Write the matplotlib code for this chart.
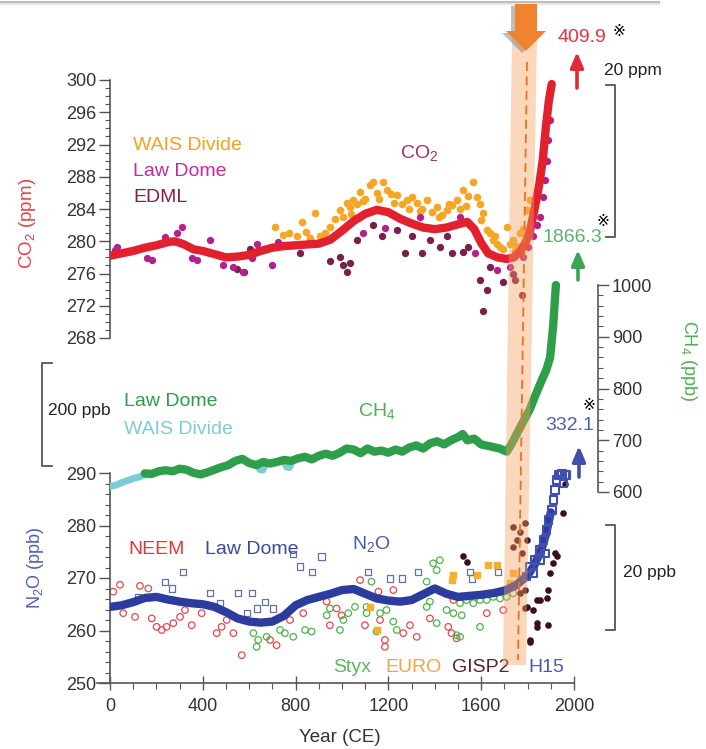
import matplotlib
matplotlib.use("Agg")
import matplotlib.pyplot as plt
from matplotlib.patches import Polygon

plt.rcParams['font.family'] = ['Liberation Sans', 'DejaVu Sans']
plt.rcParams['mathtext.fontset'] = 'custom'
plt.rcParams['mathtext.rm'] = 'Liberation Sans'
plt.rcParams['mathtext.it'] = 'Liberation Sans:italic'
plt.rcParams['mathtext.default'] = 'regular'

# ---------------- CO2 (ppm) ----------------
co2_fit_years = [0, 50, 100, 150, 200, 250, 280, 320, 360, 400, 450, 500, 550, 600, 650, 700, 750, 800,
                 850, 900, 950, 1000, 1050, 1100, 1150, 1200, 1250, 1300, 1350, 1400, 1450, 1500, 1540,
                 1570, 1600, 1630, 1670, 1710, 1740, 1770, 1790, 1810, 1830, 1850, 1865, 1880, 1892, 1904]
co2_fit = [278.2, 278.5, 278.8, 279.2, 279.5, 279.9, 280.0, 279.6, 279.0, 278.8, 278.4, 278.0, 278.1,
           278.3, 278.8, 279.2, 279.4, 279.5, 279.6, 279.7, 280.2, 281.3, 282.5, 283.4, 283.9, 283.6,
           282.8, 282.2, 281.7, 281.5, 281.7, 282.1, 282.4, 281.5, 279.8, 278.5, 278.0, 277.8, 278.0,
           278.8, 279.8, 281.2, 284.0, 287.0, 290.0, 294.5, 297.5, 299.5]

wais_co2_years = [711, 747, 770, 805, 826, 845, 862, 884, 905, 925, 948, 970, 991, 1005, 1020, 1035, 1048,
                  1063, 1078, 1100, 1121, 1134, 1150, 1178, 1192, 1210, 1236, 1258, 1279, 1300, 1322, 1345,
                  1365, 1390, 1408, 1430, 1451, 1475, 1494, 1510, 1523, 1545, 1566, 1581, 1595, 1609, 1624,
                  1638, 1652, 1667, 1681, 1695, 1710, 1724, 1738, 1752, 1767, 1781, 1796, 1810,
                  1040, 1090, 1160, 1225, 1290, 1335, 1420, 1460, 1535, 1600, 1660, 1745]
wais_co2 = [281.8, 280.8, 281.0, 280.6, 282.4, 281.2, 280.4, 283.5, 280.6, 281.0, 281.8, 282.8, 283.9,
            283.0, 284.7, 284.2, 285.1, 284.6, 286.1, 285.3, 287.0, 287.4, 286.0, 287.4, 286.4, 285.8,
            285.7, 284.6, 285.1, 285.5, 284.7, 284.0, 285.1, 283.6, 284.3, 283.2, 283.9, 284.5, 285.1,
            284.0, 286.4, 285.6, 287.4, 285.5, 284.6, 283.5, 281.4, 281.0, 280.2, 279.6, 279.3, 279.0,
            281.8, 279.6, 280.2, 279.4, 281.0, 281.5, 283.9, 285.1,
            283.4, 285.0, 285.2, 284.8, 284.0, 283.8, 283.0, 284.6, 284.4, 282.6, 280.6, 278.8]

lawdome_co2_years = [22, 29, 158, 180, 237, 287, 309, 352, 374, 431, 488, 532, 575, 611, 632, 697, 726,
                     1092, 1185, 1336, 1509, 1573, 1667, 1724, 1781, 1803, 1825, 1840, 1853, 1868, 1875,
                     1882, 1890, 1897]
lawdome_co2 = [278.9, 279.3, 277.9, 277.7, 280.5, 281.0, 281.8, 277.9, 277.7, 280.2, 277.0, 276.8, 276.2,
               277.9, 279.7, 277.1, 279.9, 281.0, 281.6, 283.0, 283.0, 278.5, 276.4, 276.8, 278.1, 279.3,
               280.6, 282.0, 283.0, 285.5, 287.6, 290.0, 292.5, 295.0]

edml_co2_years = [546, 578, 603, 819, 948, 991, 1006, 1020, 1034, 1063, 1135, 1171, 1236, 1272, 1300, 1343,
                  1379, 1422, 1451, 1472, 1523, 1545, 1595, 1609, 1624, 1638, 1695, 1738, 1746, 1774]
edml_co2 = [276.6, 276.2, 279.1, 278.5, 277.5, 278.1, 277.1, 276.2, 277.3, 280.2, 282.0, 280.6, 281.4,
            278.5, 280.6, 278.5, 280.2, 279.3, 280.6, 278.5, 278.7, 279.3, 275.2, 271.3, 274.0, 276.8,
            275.0, 276.0, 275.2, 273.3]

# ---------------- CH4 (ppb) ----------------
ch4_years = [0, 30, 60, 90, 120, 150, 180, 210, 240, 270, 300, 330, 360, 390, 420, 450, 480, 510, 540, 570,
             600, 630, 660, 690, 720, 750, 780, 810, 840, 870, 900, 930, 960, 990, 1020, 1050, 1080, 1110,
             1140, 1170, 1200, 1230, 1260, 1290, 1320, 1350, 1380, 1410, 1440, 1470, 1500, 1520, 1540,
             1570, 1600, 1640, 1680, 1710, 1730, 1753, 1780, 1810, 1832, 1860, 1880, 1897, 1910, 1922]
ch4 = [614, 616, 622, 626, 630, 636, 635, 640, 642, 640, 645, 643, 637, 634, 638, 643, 648, 652, 660, 664,
       656, 652, 658, 655, 658, 662, 660, 665, 668, 663, 670, 674, 670, 676, 684, 682, 675, 684, 678, 680,
       676, 682, 678, 686, 690, 684, 694, 698, 692, 700, 706, 712, 700, 703, 692, 688, 684, 678, 692, 712,
       735, 760, 785, 815, 835, 860, 920, 1000]

wais_ch4_years = [0, 25, 50, 75, 100, 125, 150, 175]
wais_ch4 = [611, 613, 618, 622, 626, 629, 633, 634]
wais_ch4_dip_years = [630, 645, 660, 675, 700, 745, 760, 775, 790]
wais_ch4_dip = [652, 642, 641, 654, 656, 660, 647, 646, 661]

# ---------------- N2O (ppb) ----------------
n2o_years = [0, 50, 100, 150, 200, 250, 300, 350, 400, 450, 500, 550, 600, 650, 700, 750, 800, 850, 900,
             950, 1000, 1050, 1100, 1150, 1200, 1250, 1300, 1350, 1400, 1450, 1500, 1550, 1600, 1650,
             1700, 1750, 1800, 1830, 1860, 1880, 1900]
n2o_fit = [264.5, 264.8, 265.4, 266.2, 266.4, 265.9, 265.5, 265.2, 265.0, 264.5, 263.5, 262.3, 261.7,
           261.5, 261.7, 262.8, 264.8, 265.8, 266.4, 267.0, 267.7, 267.9, 267.0, 266.1, 265.7, 265.5,
           265.8, 266.9, 268.0, 267.0, 266.4, 266.6, 266.8, 267.1, 267.6, 268.6, 270.5, 272.5, 275.5,
           278.5, 282.5]

neem_years = [14, 43, 57, 108, 129, 165, 180, 201, 223, 244, 273, 302, 323, 352, 395, 417, 460, 481, 503,
              532, 568, 690, 718, 776, 833, 934, 948, 977, 998, 1078, 1099, 1157, 1164, 1185, 1185, 1221,
              1264, 1293, 1322, 1379, 1458, 1472, 1480, 1494, 1624, 1695]
neem = [267.4, 268.7, 263.3, 262.6, 268.5, 268.0, 262.3, 260.7, 260.1, 260.7, 261.4, 262.6, 263.9, 261.0,
        263.3, 264.9, 259.5, 260.7, 262.0, 259.5, 255.3, 258.2, 257.2, 262.0, 263.3, 265.5, 261.0, 264.2,
        262.9, 269.6, 261.0, 267.4, 262.0, 258.2, 256.9, 267.7, 259.5, 261.0, 258.8, 262.3, 260.7, 259.5,
        265.8, 258.5, 263.3, 263.9]

lawdome_n2o_years = [122, 237, 266, 313, 431, 474, 553, 589, 611, 632, 668, 704, 790, 819, 869, 912, 1113,
                     1207, 1257, 1329, 1552, 1559, 1674]
lawdome_n2o = [266.4, 269.3, 268.0, 271.1, 267.1, 265.2, 267.1, 263.3, 267.1, 264.2, 265.5, 264.2, 274.5,
               272.2, 271.2, 274.1, 271.2, 269.9, 269.9, 271.2, 271.2, 269.9, 271.2]

styx_years = [618, 632, 639, 675, 733, 754, 790, 841, 869, 934, 948, 991, 1006, 1027, 1056, 1063, 1106,
              1106, 1127, 1149, 1164, 1192, 1221, 1236, 1365, 1365, 1379, 1393, 1408, 1408, 1422, 1451,
              1480, 1494, 1509, 1509, 1516, 1537, 1566, 1595, 1595, 1624, 1652, 1681, 1710, 1738]
styx = [259.5, 256.9, 258.2, 258.8, 260.1, 259.5, 258.8, 260.1, 259.8, 262.9, 264.2, 260.1, 262.0, 263.3,
        264.5, 267.7, 264.5, 263.3, 269.3, 259.8, 263.3, 263.9, 261.7, 260.1, 269.3, 264.5, 265.5, 272.8,
        271.5, 261.4, 273.4, 263.9, 263.3, 259.1, 265.2, 258.8, 262.9, 265.8, 265.2, 265.8, 260.7, 265.8,
        266.4, 266.1, 266.4, 267.1]

euro_years = [1121, 1149, 1472, 1480, 1581, 1631, 1667, 1724, 1738, 1767]
euro = [264.5, 260.1, 269.6, 270.6, 270.6, 272.5, 272.5, 269.0, 270.9, 269.9]

gisp2_years = [1523, 1537, 1738, 1738, 1753, 1767, 1767, 1774, 1789, 1789, 1789, 1796, 1796, 1810, 1810,
               1825, 1839, 1839, 1839, 1853, 1882, 1890, 1890, 1897, 1911, 1918, 1925, 1954, 1961]
gisp2 = [274.1, 273.1, 279.8, 276.0, 277.2, 278.8, 267.1, 274.7, 280.4, 267.7, 264.2, 277.2, 264.5, 257.9,
         258.2, 263.9, 265.8, 260.7, 261.4, 265.8, 266.1, 267.7, 261.0, 270.9, 272.8, 274.7, 274.1, 282.3,
         288.0]

h15_years = [1796, 1810, 1825, 1832, 1853, 1853, 1868, 1875, 1882, 1890, 1904, 1911, 1918, 1925, 1933,
             1940, 1947, 1954, 1961, 1968]
h15 = [270.3, 272.1, 270.9, 273.4, 275.3, 273.4, 277.2, 274.7, 279.1, 281.0, 283.0, 284.9, 286.8, 288.7,
       289.6, 289.6, 289.8, 288.0, 289.6, 289.6]

# ---------------- figure ----------------
W, H = 706, 749
fig = plt.figure(figsize=(W / 100, H / 100), dpi=100)
TICK = '#555555'
LAB = '#333333'

ax = fig.add_axes([110 / W, 1 - 683 / H, 464 / W, 653 / H])
ax.set_xlim(0, 2000)
ax.set_ylim(250, 250 + 653 / 5.25)
ax.set_xticks(range(0, 2001, 400))
ax.set_xticks(range(0, 2001, 100), minor=True)
ax.set_yticks(range(250, 291, 10))
ax.set_yticks(range(250, 291, 2), minor=True)
ax.tick_params(axis='y', which='major', direction='out', length=8, width=1, pad=2,
               labelsize=13, colors=TICK, labelcolor=LAB)
ax.tick_params(axis='y', which='minor', direction='out', length=3.5, width=0.8, colors=TICK)
ax.tick_params(axis='x', which='major', direction='inout', length=10, width=1, pad=6,
               labelsize=13, colors=TICK, labelcolor=LAB)
ax.tick_params(axis='x', which='minor', direction='out', length=4, width=0.8, colors=TICK)
for s in ['top', 'right']:
    ax.spines[s].set_visible(False)
ax.spines['left'].set_bounds(250, 290)
ax.spines['bottom'].set_bounds(-55, 2000)
for s in ['left', 'bottom']:
    ax.spines[s].set_color(TICK)
    ax.spines[s].set_linewidth(1.2)
ax.patch.set_visible(False)

# N2O
ax.scatter(neem_years, neem, s=22, facecolors='none', edgecolors='#E8474C', linewidths=0.9, zorder=2)
ax.scatter(styx_years, styx, s=22, facecolors='none', edgecolors='#4DB34D', linewidths=0.9, zorder=2)
ax.scatter(lawdome_n2o_years, lawdome_n2o, s=20, marker='s', facecolors='none', edgecolors='#6670A8',
           linewidths=0.9, zorder=2)
ax.scatter(euro_years, euro, s=22, marker='s', color='#F5B02E', zorder=2)
ax.scatter(gisp2_years, gisp2, s=14, color='#3A0F1A', zorder=2)
ax.plot(n2o_years, n2o_fit, color='#2B3C9E', lw=6, solid_capstyle='round', zorder=3)
ax.scatter(h15_years, h15, s=30, marker='s', facecolors='none', edgecolors='#4050B0', linewidths=1.5,
           zorder=4)

# CO2
ax_co2 = ax.twinx()
ax_co2.set_ylim(268 - 345 / 8.0625, 300 + 50 / 8.0625)
ax_co2.yaxis.tick_left()
ax_co2.set_yticks(range(268, 301, 4))
ax_co2.set_yticks(range(268, 301, 1), minor=True)
ax_co2.tick_params(axis='y', which='major', direction='out', length=8, width=1, pad=2,
                   labelsize=13, colors=TICK, labelcolor=LAB)
ax_co2.tick_params(axis='y', which='minor', direction='out', length=3.5, width=0.8, colors=TICK)
for s in ['top', 'right', 'bottom']:
    ax_co2.spines[s].set_visible(False)
ax_co2.spines['left'].set_visible(True)
ax_co2.spines['left'].set_bounds(268, 300)
ax_co2.spines['left'].set_color(TICK)
ax_co2.spines['left'].set_linewidth(1.2)
ax_co2.scatter(wais_co2_years, wais_co2, s=20, color='#F5A623', zorder=2)
ax_co2.scatter(edml_co2_years, edml_co2, s=18, color='#7B1F4B', zorder=2)
ax_co2.scatter(lawdome_co2_years, lawdome_co2, s=18, color='#B5208F', zorder=2)
ax_co2.plot(co2_fit_years, co2_fit, color='#E3202E', lw=6, solid_capstyle='round', zorder=3)

# CH4
ax_ch4 = ax.twinx()
ax_ch4.set_ylim(600 - 191 / 0.5175, 600 + 462 / 0.5175)
ax_ch4.set_yticks(range(600, 1001, 100))
ax_ch4.set_yticks(range(600, 1001, 20), minor=True)
ax_ch4.tick_params(axis='y', which='major', direction='out', length=8, width=1, pad=2,
                   labelsize=13, colors=TICK, labelcolor=LAB)
ax_ch4.tick_params(axis='y', which='minor', direction='out', length=3.5, width=0.8, colors=TICK)
for s in ['top', 'left', 'bottom']:
    ax_ch4.spines[s].set_visible(False)
ax_ch4.spines['right'].set_position(('axes', (598 - 110) / 464))
ax_ch4.spines['right'].set_bounds(600, 1000)
ax_ch4.spines['right'].set_color(TICK)
ax_ch4.spines['right'].set_linewidth(1.2)
ax_ch4.plot(wais_ch4_years, wais_ch4, color='#7DCBD8', lw=5, solid_capstyle='round', zorder=2)
ax_ch4.plot(wais_ch4_dip_years, wais_ch4_dip, color='#7DCBD8', lw=4, solid_capstyle='round', zorder=2)
ax_ch4.plot(ch4_years[5:], ch4[5:], color='#2E9E4A', lw=6, solid_capstyle='round', zorder=3)

# ---------------- overlay in pixel units ----------------
ov = fig.add_axes([0, 0, 1, 1])
ov.set_xlim(0, W)
ov.set_ylim(H, 0)
ov.axis('off')
ov.patch.set_alpha(0)

ov.plot([0, 658], [1.5, 1.5], color='#BDBDBD', lw=2.2)
ov.plot([0, 658], [4, 4], color='#E8E8E8', lw=1.5)

# industrial era band and arrow
ov.add_patch(Polygon([(512, 36), (537, 36), (526, 665), (503, 665)], closed=True,
                     fc='#F6A060', ec='none', alpha=0.42, zorder=5))
ov.plot([527, 518], [62, 660], color='#F07020', lw=1.3, dashes=(5, 3), zorder=6)
arrow = [(515, 4), (537, 4), (537, 31), (546, 31), (526, 51), (506, 31), (515, 31)]
ov.add_patch(Polygon([(x - 4, y + 2) for x, y in arrow], closed=True, fc='#8A8A8A', ec='none',
                     alpha=0.55, zorder=6))
ov.add_patch(Polygon(arrow, closed=True, fc='#F0842E', ec='none', zorder=7))

# present-day arrows
for x, y0, y1, c in [(577, 88, 52, '#E02A3A'), (578, 280, 250, '#3AA655'), (579, 477, 446, '#4050A8')]:
    ov.annotate('', xy=(x, y1), xytext=(x, y0),
                arrowprops=dict(arrowstyle='-|>,head_length=0.7,head_width=0.3', color=c, lw=2.6,
                                shrinkA=0, shrinkB=0, mutation_scale=13))

# brackets
ov.plot([606, 615, 615, 606], [85, 85, 237, 237], color='#555555', lw=1.3)
ov.plot([52, 42, 42, 52], [363, 363, 466, 466], color='#555555', lw=1.3)
ov.plot([606, 615, 615, 606], [525, 525, 630, 630], color='#555555', lw=1.3)

texts = [
    (133, 145, 'WAIS Divide', '#F5A11E', 14),
    (133, 171, 'Law Dome', '#C02BA0', 14),
    (133, 197, 'EDML', '#8C1D40', 14),
    (400, 153, 'CO$_2$', '#A0306A', 14),
    (124, 402, 'Law Dome', '#2E9D48', 14),
    (124, 429, 'WAIS Divide', '#7DCBD8', 14),
    (48, 411, '200 ppb', '#222222', 12.5),
    (358, 411, 'CH$_4$', '#4CAF50', 14),
    (128, 550, 'NEEM', '#E8343C', 14),
    (205, 550, 'Law Dome', '#3A4A9A', 14),
    (352, 544, 'N$_2$O', '#4A5AA8', 14),
    (333, 668, 'Styx', '#5CB85C', 14),
    (385, 668, 'EURO', '#F5A340', 14),
    (452, 668, 'GISP2', '#5A1F2E', 14),
    (528, 668, 'H15', '#4A5AB8', 14),
    (557, 38, '409.9', '#E8323F', 14),
    (604, 70, '20 ppm', '#222222', 12.5),
    (543, 237, '1866.3', '#5CB070', 14),
    (545, 425, '332.1', '#5060B0', 14),
    (623, 572, '20 ppb', '#222222', 12.5),
]
for x, y, s, c, fs in texts:
    ov.text(x, y, s, color=c, fontsize=fs, ha='left', va='center')

for x, y in [(613, 32), (597, 222), (582, 405)]:
    ov.text(x, y, '※', color='black', fontsize=11, ha='left', va='center', family='DejaVu Sans')

ov.text(28, 223, 'CO$_2$ (ppm)', color='#E8404A', fontsize=13.5, rotation=90, ha='center', va='center')
ov.text(35, 568, 'N$_2$O (ppb)', color='#5060B0', fontsize=13, rotation=90, ha='center', va='center')
ov.text(688, 361, 'CH$_4$ (ppb)', color='#4CB050', fontsize=13, rotation=-90, ha='center', va='center')
ov.text(340, 737, 'Year (CE)', color=LAB, fontsize=13.5, ha='center', va='center')

fig.savefig('out.png', dpi=100)
